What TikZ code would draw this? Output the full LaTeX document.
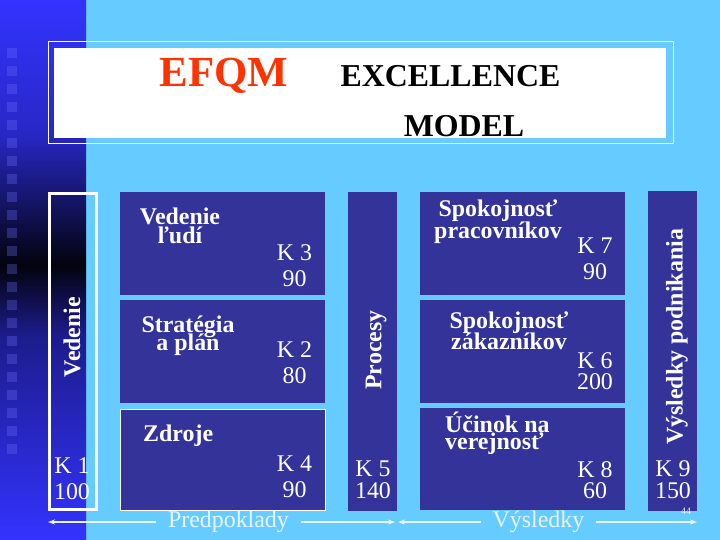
\documentclass[tikz,border=0pt]{standalone}
\usepackage{fontspec}
\setmainfont{Liberation Serif}
\usetikzlibrary{arrows.meta}
\definecolor{skyback}{RGB}{102,204,255}
\definecolor{boxblue}{RGB}{51,51,153}
\definecolor{stripblue}{RGB}{51,51,255}
\definecolor{efqmred}{RGB}{255,51,0}
\definecolor{paleline}{RGB}{232,245,255}
\setlength{\lineskiplimit}{-100pt}

\begin{document}
\begin{tikzpicture}[x=1bp, y=-1bp,
    kbox/.style={rectangle, fill=boxblue, minimum width=205bp, minimum height=103bp, inner sep=0pt},
    colbox/.style={rectangle, fill=boxblue, minimum width=49bp, minimum height=319bp, inner sep=0pt},
    crit/.style={text=white, align=center, inner sep=0pt},
    score/.style={text=white, font=\fontsize{24}{26}\selectfont, align=center, inner sep=0pt},
    tightscore/.style={score, font=\fontsize{24}{21.5}\selectfont},
    side/.style={text=white, font=\bfseries\fontsize{24}{24}\selectfont, rotate=90, inner sep=0pt},
    flow/.style={{Stealth[length=7bp,width=5bp]}-{Stealth[length=7bp,width=5bp]}, draw=paleline, line width=1.7bp},
    flowtext/.style={text=paleline, fill=skyback, font=\fontsize{24}{24}\selectfont, inner xsep=12bp, inner ysep=0pt}]
  \useasboundingbox (0,0) rectangle (720,540);
  \fill[skyback] (0,0) rectangle (720,540);
  \shade[top color=stripblue, bottom color=black!95!stripblue, middle color=stripblue!78!black] (0,0) rectangle (86,265);
  \shade[top color=black!95!stripblue, bottom color=stripblue!55!black] (0,265) rectangle (86,335);
  \shade[top color=stripblue!55!black, bottom color=stripblue] (0,335) rectangle (86,540);
  \foreach \i in {0,...,22}
    \fill[stripblue!70!white, fill opacity=0.3] (7,{48+18*\i}) rectangle ++(10,10);

  \draw[white, line width=1bp] (48,42) rectangle (673,144);
  \fill[white] (54,48) rectangle (666,138);
  \node[text=efqmred, font=\bfseries\fontsize{43}{43}\selectfont, anchor=base, inner sep=0pt] (efqm) at (224,87) {EFQM};
  \node[font=\bfseries\fontsize{32}{32}\selectfont, anchor=base, inner sep=0pt] (excel) at (450.5,87) {EXCELLENCE};
  \node[font=\bfseries\fontsize{32}{32}\selectfont, anchor=base, inner sep=0pt] (model) at (464,137) {MODEL};

  \node[draw=white, line width=3bp, minimum width=46.7bp, minimum height=316bp, inner sep=0pt] (ved) at (72.85,351.5) {};
  \node[side] (vedtxt) at (72,337) {Vedenie};
  \node[score] (K1) at (72,478.5) {K 1\\100};

  \node[kbox] (b3) at (222.5,243.5) {};
  \node[kbox] (b2) at (222.5,351.5) {};
  \node[kbox, minimum height=101bp, draw=white, line width=0.7bp] (b4) at (222.5,459.5) {};
  \node[crit, font=\bfseries\fontsize{24}{19}\selectfont] (ludi) at (180,226.3) {Vedenie\\ľudí};
  \node[crit, font=\bfseries\fontsize{24}{18}\selectfont] (plan) at (188,336.1) {Stratégia\\a plán};
  \node[crit, font=\bfseries\fontsize{24}{24}\selectfont, anchor=base west] (zdroje) at (143,441) {Zdroje};
  \node[score] (K3) at (294.5,266) {K 3\\90};
  \node[score] (K2) at (294.5,362.5) {K 2\\80};
  \node[score] (K4) at (294.5,477) {K 4\\90};

  \node[colbox] (b5) at (372.5,351.5) {};
  \node[side] (proc) at (376,350) {Procesy};
  \node[tightscore] (K5) at (373,479.6) {K 5\\140};

  \node[kbox] (b7) at (522.5,243.5) {};
  \node[kbox] (b6) at (522.5,351.5) {};
  \node[kbox, minimum height=102bp] (b8) at (522.5,459) {};
  \node[crit, font=\bfseries\fontsize{24}{23}\selectfont] (prac) at (498,221.7) {Spokojnosť\\pracovníkov};
  \node[crit, font=\bfseries\fontsize{24}{21}\selectfont] (zak) at (509,331.1) {Spokojnosť\\zákazníkov};
  \node[crit, align=left, anchor=west, font=\bfseries\fontsize{24}{17}\selectfont] (ver) at (445,433.1) {Účinok na\\verejnosť};
  \node[score] (K7) at (595,259) {K 7\\90};
  \node[tightscore] (K6) at (595,371) {K 6\\200};
  \node[tightscore] (K8) at (595,480) {K 8\\60};

  \node[colbox, minimum height=320bp] (b9) at (672.5,351) {};
  \node[side] (vys) at (677,337) {Výsledky podnikania};
  \node[tightscore] (K9) at (673,479.6) {K 9\\150};
  \node[text=paleline, font=\fontsize{10}{10}\selectfont, anchor=base, inner sep=0pt] (page) at (686,514) {44};

  \coordinate (predL) at (48,522);
  \coordinate (predR) at (395,522);
  \coordinate (resL) at (398,522);
  \coordinate (resR) at (697,522);
  \draw[flow] (predL) -- (predR) node[flowtext, pos=0.52] (pred) {Predpoklady};
  \draw[flow] (resL) -- (resR) node[flowtext, pos=0.47] (res) {Výsledky};
\end{tikzpicture}
\end{document}
